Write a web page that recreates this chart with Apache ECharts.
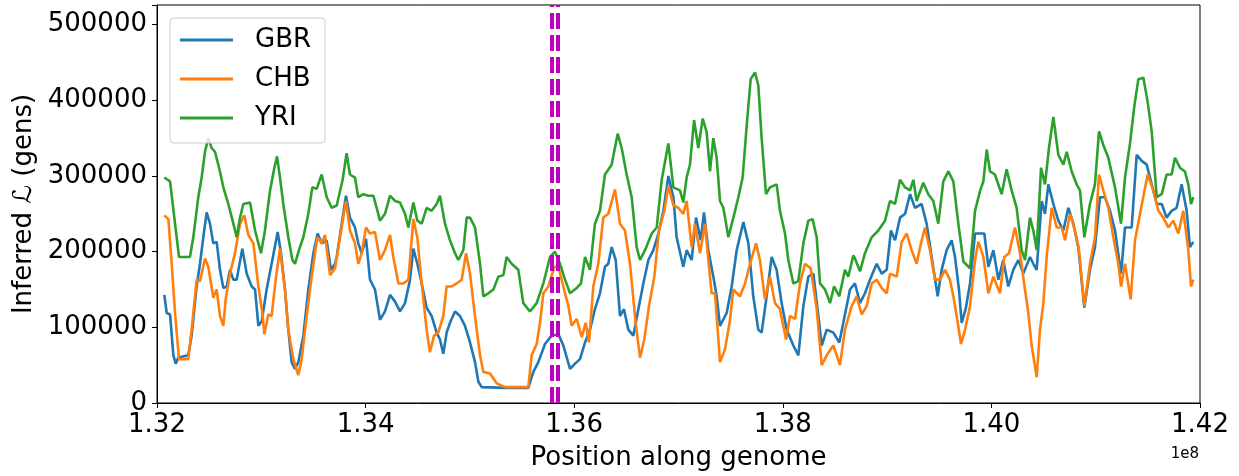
<!DOCTYPE html>
<html>
<head>
<meta charset="utf-8">
<script src="https://cdn.jsdelivr.net/npm/echarts@6/dist/echarts.min.js"></script>
<style>
html,body{margin:0;padding:0;background:#fff;}
#chart{width:1239px;height:476px;}
</style>
</head>
<body>
<div id="chart"></div>
<script>
// positions in Mb, values in thousands of generations
const seriesNames = ['GBR', 'CHB', 'YRI'];
const seriesColors = ['#1f77b4', '#ff7f0e', '#2ca02c'];
const sweepLinesMb = [135.787, 135.840];

const gbr = [[132.070,143],[132.093,119],[132.125,117],[132.157,63],[132.179,52],[132.205,60],[132.300,63],[132.332,89],[132.380,154],[132.412,184],[132.444,219],[132.476,252],[132.508,237],[132.540,211],[132.572,213],[132.604,176],[132.636,152],[132.668,154],[132.700,176],[132.732,163],[132.764,163],[132.818,204],[132.860,171],[132.908,154],[132.940,150],[132.972,102],[133.004,108],[133.051,150],[133.099,184],[133.157,226],[133.189,198],[133.227,150],[133.259,97],[133.291,54],[133.323,45],[133.355,54],[133.403,89],[133.451,150],[133.499,198],[133.540,224],[133.579,211],[133.627,215],[133.668,176],[133.707,184],[133.723,193],[133.771,237],[133.812,274],[133.850,245],[133.898,232],[133.930,211],[133.962,198],[134.004,217],[134.042,163],[134.090,150],[134.138,110],[134.186,121],[134.234,143],[134.282,134],[134.330,121],[134.378,132],[134.426,163],[134.458,204],[134.496,184],[134.538,158],[134.585,126],[134.633,115],[134.681,93],[134.713,84],[134.745,65],[134.777,93],[134.809,106],[134.857,121],[134.905,115],[134.953,102],[135.001,80],[135.049,54],[135.081,28],[135.113,21],[135.337,20],[135.560,20],[135.608,41],[135.656,54],[135.720,78],[135.784,89],[135.848,91],[135.896,76],[135.960,45],[136.008,52],[136.056,58],[136.104,80],[136.151,97],[136.199,124],[136.247,145],[136.295,180],[136.327,184],[136.359,206],[136.398,189],[136.439,115],[136.477,124],[136.519,97],[136.567,89],[136.615,124],[136.663,158],[136.711,189],[136.759,202],[136.807,224],[136.855,254],[136.903,300],[136.951,272],[136.982,219],[137.046,180],[137.078,202],[137.126,189],[137.168,245],[137.213,215],[137.244,252],[137.286,202],[137.334,167],[137.366,141],[137.398,102],[137.462,119],[137.510,154],[137.558,202],[137.622,239],[137.670,211],[137.717,141],[137.765,97],[137.797,93],[137.845,141],[137.893,193],[137.941,176],[137.989,132],[138.037,97],[138.101,76],[138.149,63],[138.197,128],[138.245,167],[138.293,171],[138.341,115],[138.373,76],[138.421,97],[138.485,93],[138.542,80],[138.580,106],[138.644,150],[138.692,158],[138.740,132],[138.788,145],[138.836,163],[138.900,184],[138.948,171],[138.996,176],[139.037,228],[139.076,215],[139.124,245],[139.172,250],[139.220,276],[139.267,258],[139.331,263],[139.379,237],[139.427,193],[139.485,141],[139.523,176],[139.571,202],[139.619,215],[139.651,193],[139.689,150],[139.715,106],[139.753,124],[139.795,158],[139.843,224],[139.891,224],[139.932,224],[139.971,180],[140.019,202],[140.067,163],[140.114,189],[140.162,154],[140.210,176],[140.258,189],[140.306,171],[140.370,193],[140.402,184],[140.434,176],[140.482,267],[140.514,250],[140.546,289],[140.594,263],[140.642,241],[140.690,228],[140.738,258],[140.786,237],[140.833,206],[140.891,126],[140.945,176],[140.993,206],[141.041,272],[141.089,272],[141.137,254],[141.185,228],[141.243,171],[141.281,232],[141.345,232],[141.393,328],[141.441,320],[141.489,315],[141.537,289],[141.585,263],[141.633,263],[141.680,245],[141.728,254],[141.776,258],[141.824,289],[141.872,254],[141.904,206],[141.936,213]];

const chb = [[132.070,248],[132.109,243],[132.141,184],[132.173,119],[132.211,58],[132.300,58],[132.332,97],[132.380,163],[132.412,161],[132.460,191],[132.492,180],[132.540,139],[132.572,150],[132.604,115],[132.636,102],[132.658,137],[132.700,171],[132.748,198],[132.796,237],[132.837,248],[132.876,222],[132.924,211],[132.972,154],[133.010,119],[133.029,91],[133.067,117],[133.099,115],[133.138,163],[133.179,204],[133.227,150],[133.259,97],[133.307,58],[133.355,37],[133.387,58],[133.435,115],[133.483,167],[133.537,219],[133.579,211],[133.611,222],[133.659,169],[133.707,178],[133.755,219],[133.812,267],[133.850,228],[133.898,211],[133.930,184],[133.962,198],[134.004,232],[134.042,224],[134.090,226],[134.138,189],[134.186,202],[134.234,222],[134.266,193],[134.314,158],[134.362,158],[134.410,163],[134.458,243],[134.496,219],[134.538,158],[134.585,97],[134.617,67],[134.656,89],[134.697,93],[134.745,115],[134.777,154],[134.825,154],[134.873,158],[134.921,163],[134.963,198],[135.001,171],[135.049,115],[135.097,63],[135.129,41],[135.193,39],[135.257,26],[135.337,21],[135.560,21],[135.592,63],[135.640,78],[135.672,106],[135.704,145],[135.752,154],[135.810,180],[135.848,180],[135.896,154],[135.944,128],[135.976,102],[136.024,111],[136.072,87],[136.110,106],[136.142,80],[136.183,154],[136.231,184],[136.279,245],[136.327,250],[136.391,282],[136.439,237],[136.487,228],[136.535,184],[136.589,106],[136.631,60],[136.672,84],[136.717,128],[136.768,167],[136.813,228],[136.864,254],[136.903,287],[136.951,261],[136.998,258],[137.046,250],[137.078,267],[137.126,206],[137.158,237],[137.206,198],[137.254,237],[137.286,189],[137.318,145],[137.350,145],[137.398,54],[137.446,71],[137.494,110],[137.526,150],[137.590,141],[137.638,158],[137.686,184],[137.743,211],[137.781,189],[137.829,137],[137.877,167],[137.925,132],[137.973,124],[138.031,84],[138.069,115],[138.117,111],[138.165,158],[138.213,184],[138.267,178],[138.325,124],[138.373,50],[138.421,63],[138.485,76],[138.548,50],[138.596,97],[138.660,128],[138.708,141],[138.756,117],[138.804,128],[138.852,158],[138.900,163],[138.948,152],[138.996,145],[139.028,171],[139.092,167],[139.140,213],[139.188,224],[139.235,202],[139.283,184],[139.325,211],[139.363,232],[139.411,202],[139.459,163],[139.507,163],[139.555,176],[139.603,163],[139.635,141],[139.667,115],[139.709,78],[139.747,97],[139.795,128],[139.843,189],[139.875,213],[139.923,193],[139.971,145],[140.019,167],[140.082,145],[140.124,193],[140.169,198],[140.226,232],[140.274,198],[140.322,150],[140.354,119],[140.386,76],[140.434,34],[140.466,97],[140.498,132],[140.530,193],[140.578,258],[140.626,232],[140.674,232],[140.706,215],[140.754,250],[140.801,228],[140.840,202],[140.891,128],[140.945,184],[140.993,219],[141.032,302],[141.073,281],[141.121,258],[141.169,219],[141.217,184],[141.243,154],[141.281,184],[141.335,137],[141.377,215],[141.425,250],[141.498,302],[141.553,281],[141.601,254],[141.648,245],[141.696,232],[141.744,241],[141.792,224],[141.840,254],[141.888,202],[141.914,154],[141.936,163]];

const yri = [[132.070,298],[132.125,293],[132.173,237],[132.211,193],[132.316,193],[132.348,219],[132.396,272],[132.428,298],[132.460,332],[132.492,350],[132.524,337],[132.556,332],[132.604,306],[132.636,285],[132.684,263],[132.732,237],[132.764,219],[132.796,245],[132.828,263],[132.892,265],[132.940,228],[132.997,198],[133.035,228],[133.083,280],[133.125,311],[133.151,326],[133.179,298],[133.211,263],[133.259,219],[133.298,189],[133.323,184],[133.361,202],[133.403,219],[133.451,250],[133.489,285],[133.531,283],[133.579,302],[133.627,272],[133.675,258],[133.723,261],[133.780,295],[133.818,330],[133.850,302],[133.898,298],[133.930,272],[133.978,276],[134.026,274],[134.074,274],[134.106,258],[134.138,241],[134.186,250],[134.234,274],[134.282,267],[134.330,265],[134.378,250],[134.410,232],[134.458,265],[134.496,241],[134.538,237],[134.585,258],[134.633,254],[134.681,263],[134.713,274],[134.761,237],[134.809,215],[134.857,198],[134.889,189],[134.937,202],[134.969,245],[135.001,245],[135.049,232],[135.097,184],[135.129,141],[135.177,145],[135.225,150],[135.273,167],[135.321,169],[135.352,193],[135.400,184],[135.464,176],[135.512,132],[135.576,121],[135.640,132],[135.704,158],[135.768,193],[135.816,200],[135.864,184],[135.912,163],[135.960,145],[136.024,152],[136.065,158],[136.104,193],[136.151,176],[136.199,237],[136.247,254],[136.295,302],[136.359,315],[136.417,356],[136.455,337],[136.503,302],[136.551,272],[136.599,206],[136.631,189],[136.679,202],[136.743,224],[136.791,232],[136.839,295],[136.903,343],[136.951,285],[137.014,281],[137.046,265],[137.078,298],[137.110,315],[137.149,374],[137.190,337],[137.232,376],[137.270,358],[137.302,306],[137.334,350],[137.366,324],[137.398,267],[137.430,258],[137.478,219],[137.526,245],[137.574,272],[137.615,298],[137.654,367],[137.692,428],[137.733,437],[137.765,420],[137.797,350],[137.839,276],[137.877,285],[137.941,289],[137.973,254],[138.021,224],[138.053,189],[138.101,158],[138.149,161],[138.197,211],[138.245,241],[138.286,243],[138.325,219],[138.357,158],[138.405,150],[138.453,132],[138.491,154],[138.542,141],[138.596,176],[138.628,167],[138.676,195],[138.692,191],[138.740,174],[138.788,198],[138.852,219],[138.916,228],[138.980,241],[139.028,267],[139.076,263],[139.124,295],[139.172,285],[139.220,281],[139.252,295],[139.283,267],[139.347,291],[139.395,276],[139.443,267],[139.491,237],[139.539,293],[139.587,306],[139.635,293],[139.683,237],[139.731,187],[139.795,178],[139.843,254],[139.891,280],[139.923,293],[139.955,335],[139.987,306],[140.034,302],[140.098,276],[140.146,309],[140.194,281],[140.242,258],[140.290,202],[140.322,189],[140.370,245],[140.402,228],[140.434,202],[140.476,311],[140.514,289],[140.552,337],[140.594,378],[140.642,328],[140.690,315],[140.722,332],[140.770,306],[140.817,289],[140.849,281],[140.891,219],[140.945,263],[140.993,289],[141.032,359],[141.073,341],[141.121,324],[141.185,285],[141.243,237],[141.281,298],[141.329,343],[141.371,393],[141.409,428],[141.457,430],[141.498,398],[141.537,359],[141.585,272],[141.633,276],[141.680,302],[141.728,302],[141.760,324],[141.808,311],[141.856,306],[141.888,289],[141.914,263],[141.936,272]];

const MB = 1e6, K = 1000;
const toData = arr => arr.map(p => [p[0] * MB, p[1] * K]);
const allData = [gbr, chb, yri];
const FONT = 'DejaVu Sans';

const chart = echarts.init(document.getElementById('chart'), null, {renderer: 'canvas'});

const series = allData.map((d, i) => ({
  name: seriesNames[i],
  type: 'line',
  data: toData(d),
  symbol: 'none',
  showSymbol: false,
  lineStyle: {color: seriesColors[i], width: 2.6},
  itemStyle: {color: seriesColors[i]},
  z: 2 + i
}));

series.push({
  name: 'sweep',
  type: 'line',
  data: [],
  z: 10,
  markLine: {
    silent: true,
    symbol: 'none',
    label: {show: false},
    lineStyle: {color: '#bf00bf', width: 4, type: [16, 6], opacity: 1},
    data: sweepLinesMb.map(v => ({xAxis: v * MB}))
  }
});

chart.setOption({
  animation: false,
  backgroundColor: '#fff',
  grid: {left: 157, right: 39, top: 5, bottom: 68, show: true, borderColor: '#000', borderWidth: 1, backgroundColor: 'transparent'},
  legend: {
    data: seriesNames,
    orient: 'vertical',
    left: 170,
    top: 18,
    padding: [7, 14, 10, 10],
    itemGap: 9,
    itemWidth: 53,
    itemHeight: 3,
    icon: 'rect',
    backgroundColor: 'rgba(255,255,255,0.8)',
    borderColor: '#cccccc',
    borderWidth: 1,
    borderRadius: 4,
    z: 20,
    textStyle: {fontSize: 26, fontFamily: FONT, color: '#000', lineHeight: 30, padding: [0, 0, 0, 17]}
  },
  xAxis: {
    type: 'value',
    min: 132 * MB,
    max: 142 * MB,
    interval: 2 * MB,
    name: 'Position along genome',
    nameLocation: 'middle',
    nameGap: 42,
    nameTextStyle: {fontSize: 26, fontFamily: FONT, color: '#000'},
    axisLine: {show: true, onZero: false, lineStyle: {color: '#000', width: 1}},
    axisTick: {show: true, inside: false, length: 5, lineStyle: {color: '#000'}},
    axisLabel: {fontSize: 26, fontFamily: FONT, color: '#000', margin: 9,
      formatter: v => (v / 1e8).toFixed(2)},
    splitLine: {show: false}
  },
  yAxis: {
    type: 'value',
    min: 0,
    max: 526000,
    interval: 100000,
    name: 'Inferred \u2112 (gens)',
    nameLocation: 'middle',
    nameGap: 118,
    nameTextStyle: {fontSize: 26, fontFamily: FONT, color: '#000'},
    axisLine: {show: true, lineStyle: {color: '#000', width: 1}},
    axisTick: {show: true, inside: false, length: 5, lineStyle: {color: '#000'}},
    axisLabel: {fontSize: 26, fontFamily: FONT, color: '#000', margin: 10,
      formatter: v => (v % 100000 === 0 ? String(v) : '')},
    splitLine: {show: false}
  },
  graphic: [{
    type: 'text',
    right: 40,
    top: 447,
    style: {text: '1e8', font: '15px "DejaVu Sans"', fill: '#000'}
  }],
  series: series
});
</script>
</body>
</html>
